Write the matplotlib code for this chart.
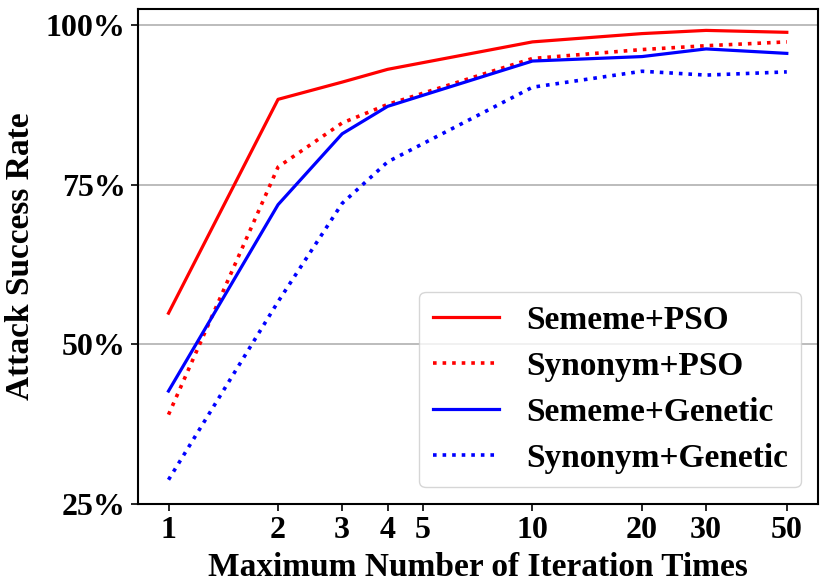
import matplotlib
matplotlib.use("Agg")
import matplotlib.pyplot as plt
from matplotlib.ticker import FixedLocator, FixedFormatter, NullLocator

# ── Données ───────────────────────────────────────────────────────────────────
iters = [1, 2, 3, 4, 10, 20, 30, 50]
sememe_pso = [54.9, 88.4, 91.1, 93.1, 97.4, 98.7, 99.2, 98.9]
synonym_pso = [39.0, 77.8, 84.7, 87.6, 94.8, 96.2, 96.8, 97.4]
sememe_gen = [42.7, 71.9, 83.0, 87.3, 94.4, 95.1, 96.3, 95.6]
synonym_gen = [28.8, 56.7, 72.1, 78.6, 90.3, 92.8, 92.2, 92.7]

xticks = [1, 2, 3, 4, 5, 10, 20, 30, 50]
yticks = [25, 50, 75, 100]

plt.rcParams["font.family"] = ["Liberation Serif", "DejaVu Serif"]
plt.rcParams["font.weight"] = "bold"

fig = plt.figure(figsize=(8.3, 5.82), dpi=100)
ax = fig.add_axes([0.1657, 0.1340, 0.8195, 0.8505])

ax.plot(iters, sememe_pso, "-", color="red", lw=2.3, label="Sememe+PSO")
ax.plot(iters, synonym_pso, ":", color="red", lw=2.6, label="Synonym+PSO")
ax.plot(iters, sememe_gen, "-", color="blue", lw=2.3, label="Sememe+Genetic")
ax.plot(iters, synonym_gen, ":", color="blue", lw=2.6, label="Synonym+Genetic")

ax.set_xscale("log")
ax.set_xlim(0.822, 60.8)
ax.set_ylim(25, 102.55)
ax.xaxis.set_major_locator(FixedLocator(xticks))
ax.xaxis.set_major_formatter(FixedFormatter([str(t) for t in xticks]))
ax.xaxis.set_minor_locator(NullLocator())
ax.yaxis.set_major_locator(FixedLocator(yticks))
ax.yaxis.set_major_formatter(FixedFormatter([f"{t}%" for t in yticks]))

ax.tick_params(axis="both", labelsize=23, width=1.2, length=5)
for lab in ax.get_xticklabels() + ax.get_yticklabels():
    lab.set_fontweight("bold")
for sp in ax.spines.values():
    sp.set_linewidth(1.5)

ax.grid(axis="y", color="#b0b0b0", lw=1.2)
ax.set_axisbelow(True)

ax.set_xlabel("Maximum Number of Iteration Times", fontsize=24, fontweight="bold", labelpad=5)
ax.set_ylabel("Attack Success Rate", fontsize=24, fontweight="bold")
ax.yaxis.set_label_coords(-0.149, 0.5)

leg = ax.legend(loc="lower right", labelspacing=0.45,
                prop={"size": 24, "weight": "bold"}, handlelength=2.0)

fig.savefig("out.png", dpi=100)
